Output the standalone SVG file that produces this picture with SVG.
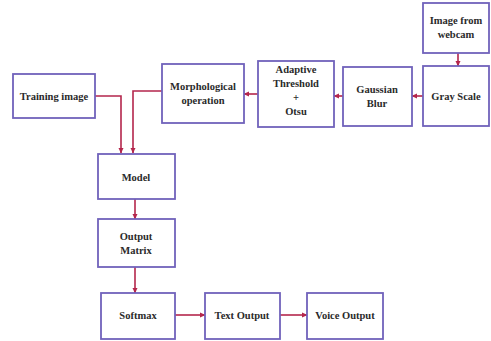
<svg xmlns="http://www.w3.org/2000/svg" width="491" height="341" viewBox="0 0 491 341">
<style>
.box{fill:#fff;stroke:#7062bb;stroke-width:1.8}
.t{font-family:"Liberation Serif",serif;font-weight:bold;font-size:10.5px;fill:#2a2a2a;text-anchor:middle}
.c{fill:none;stroke:#b4264c;stroke-width:1.6}
</style>
<defs>
<marker id="a" markerWidth="6" markerHeight="6" refX="5" refY="3" orient="auto" markerUnits="userSpaceOnUse">
<path d="M0,0.5 L5.5,3 L0,5.5 Z" fill="#b4264c"/>
</marker>
</defs>
<rect width="491" height="341" fill="#fff"/>
<g id="connectors">
<path class="c" d="M458,53 V66" marker-end="url(#a)"/>
<path class="c" d="M423,96 H412" marker-end="url(#a)"/>
<path class="c" d="M343,96 H334" marker-end="url(#a)"/>
<path class="c" d="M258,94 H244" marker-end="url(#a)"/>
<path class="c" d="M95,96 H121 V153" marker-end="url(#a)"/>
<path class="c" d="M162,91 H133 V153" marker-end="url(#a)"/>
<path class="c" d="M135,199 V219" marker-end="url(#a)"/>
<path class="c" d="M135,267 V293" marker-end="url(#a)"/>
<path class="c" d="M175,315 H205" marker-end="url(#a)"/>
<path class="c" d="M280,315 H307" marker-end="url(#a)"/>
</g>
<g id="webcam"><rect class="box" x="423" y="3" width="66" height="50"/><text class="t" x="456" y="24">Image from</text><text class="t" x="456" y="38">webcam</text></g>
<g id="gray"><rect class="box" x="423" y="66" width="66" height="60"/><text class="t" x="456" y="100">Gray Scale</text></g>
<g id="gaussian"><rect class="box" x="343" y="67" width="69" height="59"/><text class="t" x="377" y="93">Gaussian</text><text class="t" x="377" y="107">Blur</text></g>
<g id="adaptive"><rect class="box" x="258" y="61" width="76" height="66"/><text class="t" x="296" y="73">Adaptive</text><text class="t" x="296" y="87">Threshold</text><text class="t" x="296" y="101">+</text><text class="t" x="296" y="115">Otsu</text></g>
<g id="morph"><rect class="box" x="162" y="64" width="82" height="59"/><text class="t" x="203" y="90">Morphological</text><text class="t" x="203" y="104">operation</text></g>
<g id="training"><rect class="box" x="13" y="74" width="82" height="44"/><text class="t" x="54" y="100">Training image</text></g>
<g id="model"><rect class="box" x="98" y="154" width="77" height="45"/><text class="t" x="136" y="181">Model</text></g>
<g id="outmatrix"><rect class="box" x="98" y="219" width="77" height="48"/><text class="t" x="136" y="240">Output</text><text class="t" x="136" y="254">Matrix</text></g>
<g id="softmax"><rect class="box" x="101" y="293" width="74" height="46"/><text class="t" x="138" y="319">Softmax</text></g>
<g id="textout"><rect class="box" x="205" y="293" width="75" height="46"/><text class="t" x="242" y="319">Text Output</text></g>
<g id="voiceout"><rect class="box" x="307" y="293" width="76" height="46"/><text class="t" x="345" y="319">Voice Output</text></g>
</svg>
